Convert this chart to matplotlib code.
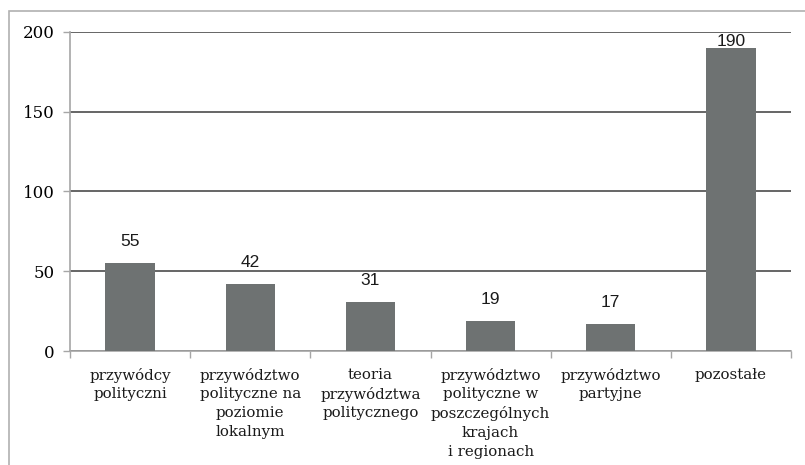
#!/usr/bin/env python3
"""Bar chart: counts of publications by leadership topic (recreated)."""
import matplotlib
import numpy as np

matplotlib.use("Agg")
import matplotlib.pyplot as plt  # noqa: E402
from matplotlib.patches import Rectangle  # noqa: E402

# ---------- data ----------
categories = [
    "przywódcy\npolityczni",
    "przywództwo\npolityczne na\npoziomie\nlokalnym",
    "teoria\nprzywództwa\npolitycznego",
    "przywództwo\npolityczne w\nposzczególnych\nkrajach\ni regionach",
    "przywództwo\npartyjne",
    "pozostałe",
]
values = [55, 42, 31, 19, 17, 190]
yticks = [0, 50, 100, 150, 200]

BAR = "#6e7272"
GRID = "#3c3c3c"
AXIS = "#a6a6a6"
SERIF = "DejaVu Serif"
SANS = "Liberation Sans"


def main():
    fig = plt.figure(figsize=(8.05, 4.65), dpi=100)
    ax = fig.add_axes([70 / 805, 1 - 351 / 465, 721 / 805, 319 / 465])

    # outer chart frame (clipped at right/bottom like the source)
    fig.patches.append(Rectangle((9 / 805, -0.2), 1.2, 1.2 - 11 / 465,
                                 transform=fig.transFigure, fill=False,
                                 edgecolor="#b0b0b0", lw=1.2))

    x = np.arange(len(values))
    ax.bar(x, values, width=0.41, color=BAR, zorder=3)

    for xi, v in zip(x, values):
        off = 10 if v + 10 < yticks[-1] else -1
        ax.annotate(str(v), (xi, v), xytext=(0, off), textcoords="offset points",
                    ha="center", va="bottom", fontsize=12.5, family=SANS, color="#1a1a1a")

    ax.set_xlim(-0.5, len(values) - 0.5)
    ax.set_ylim(yticks[0], yticks[-1])
    ax.set_yticks(yticks)
    ax.set_yticklabels([str(t) for t in yticks], family=SERIF, fontsize=12)
    ax.yaxis.grid(True, color=GRID, lw=1.1, zorder=0)
    ax.set_axisbelow(True)

    # category ticks sit on the boundaries, labels in the middle
    ax.set_xticks(np.arange(len(values) + 1) - 0.5)
    ax.set_xticklabels([])
    ax.set_xticks(x, minor=True)
    ax.set_xticklabels(categories, minor=True, family=SERIF, fontsize=10.8,
                       linespacing=1.42, va="top", color="#1a1a1a")
    ax.tick_params(axis="x", which="minor", length=0, pad=12)
    ax.tick_params(axis="x", which="major", length=5, color=AXIS, width=1)
    ax.tick_params(axis="y", length=5, color=AXIS, width=1, pad=6)

    for side in ("top", "right"):
        ax.spines[side].set_visible(False)
    for side in ("left", "bottom"):
        ax.spines[side].set_color(AXIS)
        ax.spines[side].set_linewidth(1.2)

    fig.savefig("out.png", dpi=100)


if __name__ == "__main__":
    main()
